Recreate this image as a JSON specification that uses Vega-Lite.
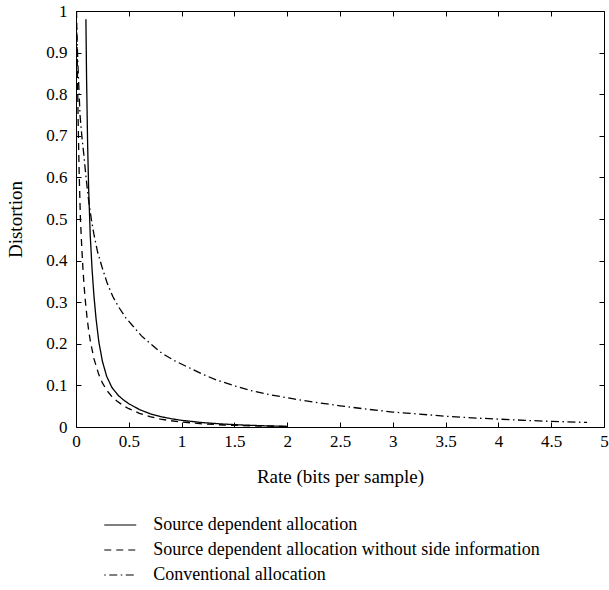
{
  "$schema": "https://vega.github.io/schema/vega-lite/v6.json",
  "width": 528,
  "height": 416,
  "autosize": {"type": "none"},
  "padding": {"left": 76, "top": 11, "right": 5, "bottom": 163},
  "background": "white",
  "config": {
    "font": "Liberation Serif",
    "view": {"stroke": null},
    "axis": {
      "domainColor": "black",
      "domainWidth": 1,
      "tickColor": "black",
      "tickWidth": 1,
      "tickSize": -5,
      "labelColor": "black",
      "labelFont": "Liberation Serif",
      "labelFontSize": 17,
      "titleFont": "Liberation Serif",
      "titleFontSize": 19,
      "titleFontWeight": "normal",
      "titleColor": "black",
      "grid": false
    },
    "legend": {
      "labelFont": "Liberation Serif",
      "labelFontSize": 18,
      "labelColor": "black"
    }
  },
  "datasets": {
    "curves": [
      {"series": "Source dependent allocation", "rate": 0.094, "distortion": 0.98},
      {"series": "Source dependent allocation", "rate": 0.1, "distortion": 0.84},
      {"series": "Source dependent allocation", "rate": 0.11, "distortion": 0.68},
      {"series": "Source dependent allocation", "rate": 0.12, "distortion": 0.57},
      {"series": "Source dependent allocation", "rate": 0.135, "distortion": 0.46},
      {"series": "Source dependent allocation", "rate": 0.152, "distortion": 0.38},
      {"series": "Source dependent allocation", "rate": 0.17, "distortion": 0.315},
      {"series": "Source dependent allocation", "rate": 0.19, "distortion": 0.26},
      {"series": "Source dependent allocation", "rate": 0.216, "distortion": 0.205},
      {"series": "Source dependent allocation", "rate": 0.25, "distortion": 0.158},
      {"series": "Source dependent allocation", "rate": 0.29, "distortion": 0.122},
      {"series": "Source dependent allocation", "rate": 0.34, "distortion": 0.095},
      {"series": "Source dependent allocation", "rate": 0.4, "distortion": 0.076},
      {"series": "Source dependent allocation", "rate": 0.45, "distortion": 0.065},
      {"series": "Source dependent allocation", "rate": 0.5, "distortion": 0.056},
      {"series": "Source dependent allocation", "rate": 0.6, "distortion": 0.042},
      {"series": "Source dependent allocation", "rate": 0.7, "distortion": 0.032},
      {"series": "Source dependent allocation", "rate": 0.8, "distortion": 0.025},
      {"series": "Source dependent allocation", "rate": 0.9, "distortion": 0.02},
      {"series": "Source dependent allocation", "rate": 1.0, "distortion": 0.016},
      {"series": "Source dependent allocation", "rate": 1.2, "distortion": 0.0105},
      {"series": "Source dependent allocation", "rate": 1.4, "distortion": 0.007},
      {"series": "Source dependent allocation", "rate": 1.6, "distortion": 0.0045},
      {"series": "Source dependent allocation", "rate": 1.8, "distortion": 0.0028},
      {"series": "Source dependent allocation", "rate": 2.0, "distortion": 0.0015},
      {"series": "Source dependent allocation without side information", "rate": 0.005, "distortion": 1.0},
      {"series": "Source dependent allocation without side information", "rate": 0.012, "distortion": 0.88},
      {"series": "Source dependent allocation without side information", "rate": 0.02, "distortion": 0.74},
      {"series": "Source dependent allocation without side information", "rate": 0.03, "distortion": 0.61},
      {"series": "Source dependent allocation without side information", "rate": 0.042, "distortion": 0.5},
      {"series": "Source dependent allocation without side information", "rate": 0.055, "distortion": 0.43},
      {"series": "Source dependent allocation without side information", "rate": 0.067, "distortion": 0.375},
      {"series": "Source dependent allocation without side information", "rate": 0.078, "distortion": 0.335},
      {"series": "Source dependent allocation without side information", "rate": 0.089, "distortion": 0.302},
      {"series": "Source dependent allocation without side information", "rate": 0.105, "distortion": 0.262},
      {"series": "Source dependent allocation without side information", "rate": 0.12, "distortion": 0.232},
      {"series": "Source dependent allocation without side information", "rate": 0.137, "distortion": 0.205},
      {"series": "Source dependent allocation without side information", "rate": 0.169, "distortion": 0.165},
      {"series": "Source dependent allocation without side information", "rate": 0.216, "distortion": 0.126},
      {"series": "Source dependent allocation without side information", "rate": 0.25, "distortion": 0.106},
      {"series": "Source dependent allocation without side information", "rate": 0.295, "distortion": 0.087},
      {"series": "Source dependent allocation without side information", "rate": 0.34, "distortion": 0.073},
      {"series": "Source dependent allocation without side information", "rate": 0.39, "distortion": 0.062},
      {"series": "Source dependent allocation without side information", "rate": 0.45, "distortion": 0.051},
      {"series": "Source dependent allocation without side information", "rate": 0.5, "distortion": 0.044},
      {"series": "Source dependent allocation without side information", "rate": 0.6, "distortion": 0.033},
      {"series": "Source dependent allocation without side information", "rate": 0.7, "distortion": 0.025},
      {"series": "Source dependent allocation without side information", "rate": 0.8, "distortion": 0.019},
      {"series": "Source dependent allocation without side information", "rate": 0.9, "distortion": 0.015},
      {"series": "Source dependent allocation without side information", "rate": 1.0, "distortion": 0.012},
      {"series": "Source dependent allocation without side information", "rate": 1.2, "distortion": 0.0075},
      {"series": "Source dependent allocation without side information", "rate": 1.4, "distortion": 0.0048},
      {"series": "Source dependent allocation without side information", "rate": 1.65, "distortion": 0.0028},
      {"series": "Source dependent allocation without side information", "rate": 2.0, "distortion": 0.0012},
      {"series": "Conventional allocation", "rate": 0.0, "distortion": 1.0},
      {"series": "Conventional allocation", "rate": 0.01, "distortion": 0.93},
      {"series": "Conventional allocation", "rate": 0.02, "distortion": 0.86},
      {"series": "Conventional allocation", "rate": 0.038, "distortion": 0.75},
      {"series": "Conventional allocation", "rate": 0.055, "distortion": 0.7},
      {"series": "Conventional allocation", "rate": 0.074, "distortion": 0.655},
      {"series": "Conventional allocation", "rate": 0.095, "distortion": 0.6},
      {"series": "Conventional allocation", "rate": 0.12, "distortion": 0.544},
      {"series": "Conventional allocation", "rate": 0.145, "distortion": 0.5},
      {"series": "Conventional allocation", "rate": 0.169, "distortion": 0.464},
      {"series": "Conventional allocation", "rate": 0.205, "distortion": 0.42},
      {"series": "Conventional allocation", "rate": 0.247, "distortion": 0.384},
      {"series": "Conventional allocation", "rate": 0.295, "distortion": 0.346},
      {"series": "Conventional allocation", "rate": 0.35, "distortion": 0.313},
      {"series": "Conventional allocation", "rate": 0.405, "distortion": 0.288},
      {"series": "Conventional allocation", "rate": 0.47, "distortion": 0.263},
      {"series": "Conventional allocation", "rate": 0.548, "distortion": 0.24},
      {"series": "Conventional allocation", "rate": 0.62, "distortion": 0.219},
      {"series": "Conventional allocation", "rate": 0.706, "distortion": 0.2},
      {"series": "Conventional allocation", "rate": 0.81, "distortion": 0.178},
      {"series": "Conventional allocation", "rate": 0.928, "distortion": 0.16},
      {"series": "Conventional allocation", "rate": 1.05, "distortion": 0.145},
      {"series": "Conventional allocation", "rate": 1.197, "distortion": 0.127},
      {"series": "Conventional allocation", "rate": 1.33, "distortion": 0.113},
      {"series": "Conventional allocation", "rate": 1.5, "distortion": 0.099},
      {"series": "Conventional allocation", "rate": 1.65, "distortion": 0.088},
      {"series": "Conventional allocation", "rate": 1.85, "distortion": 0.077},
      {"series": "Conventional allocation", "rate": 2.05, "distortion": 0.068},
      {"series": "Conventional allocation", "rate": 2.25, "distortion": 0.06},
      {"series": "Conventional allocation", "rate": 2.5, "distortion": 0.051},
      {"series": "Conventional allocation", "rate": 2.75, "distortion": 0.043},
      {"series": "Conventional allocation", "rate": 3.0, "distortion": 0.036},
      {"series": "Conventional allocation", "rate": 3.25, "distortion": 0.031},
      {"series": "Conventional allocation", "rate": 3.5, "distortion": 0.026},
      {"series": "Conventional allocation", "rate": 3.75, "distortion": 0.022},
      {"series": "Conventional allocation", "rate": 4.0, "distortion": 0.019},
      {"series": "Conventional allocation", "rate": 4.25, "distortion": 0.016},
      {"series": "Conventional allocation", "rate": 4.5, "distortion": 0.0135},
      {"series": "Conventional allocation", "rate": 4.84, "distortion": 0.011}
    ]
  },
  "data": {"name": "curves"},
  "layer": [
    {
      "mark": {"type": "line", "color": "black", "strokeWidth": 1.3, "clip": true},
      "encoding": {
        "x": {
          "field": "rate",
          "type": "quantitative",
          "scale": {"domain": [0, 5], "nice": false, "zero": false},
          "axis": {
            "orient": "bottom",
            "title": "Rate (bits per sample)",
            "values": [0, 0.5, 1, 1.5, 2, 2.5, 3, 3.5, 4, 4.5, 5],
            "format": "~g",
            "labelPadding": 11,
            "titlePadding": 18,
            "labelFlush": false
          }
        },
        "y": {
          "field": "distortion",
          "type": "quantitative",
          "scale": {"domain": [0, 1], "nice": false, "zero": false},
          "axis": {
            "orient": "left",
            "title": "Distortion",
            "values": [0, 0.1, 0.2, 0.3, 0.4, 0.5, 0.6, 0.7, 0.8, 0.9, 1],
            "format": "~g",
            "labelPadding": 14,
            "titlePadding": 20,
            "labelFlush": false
          }
        },
        "detail": {"field": "series"},
        "strokeDash": {
          "field": "series",
          "type": "nominal",
          "scale": {
            "domain": ["Source dependent allocation", "Source dependent allocation without side information", "Conventional allocation"],
            "range": [[1, 0], [7, 5], [1.5, 3.5, 8, 3.5]]
          },
          "legend": {
            "title": null,
            "orient": "none",
            "legendX": 35.25,
            "legendY": 505,
            "direction": "vertical",
            "padding": 0,
            "symbolType": "M-2,0H2",
            "symbolSize": 256,
            "symbolStrokeWidth": 1.2,
            "symbolStrokeColor": "black",
            "symbolFillColor": "transparent",
            "labelOffset": 24,
            "rowPadding": 7,
            "labelLimit": 600
          }
        }
      }
    },
    {
      "mark": {"type": "line", "opacity": 0},
      "encoding": {
        "x": {
          "field": "rate",
          "type": "quantitative",
          "axis": {
            "orient": "top",
            "title": null,
            "labels": false,
            "values": [0, 0.5, 1, 1.5, 2, 2.5, 3, 3.5, 4, 4.5, 5]
          }
        },
        "y": {
          "field": "distortion",
          "type": "quantitative",
          "axis": {
            "orient": "right",
            "title": null,
            "labels": false,
            "values": [0, 0.1, 0.2, 0.3, 0.4, 0.5, 0.6, 0.7, 0.8, 0.9, 1]
          }
        },
        "detail": {"field": "series"}
      }
    }
  ]
}
